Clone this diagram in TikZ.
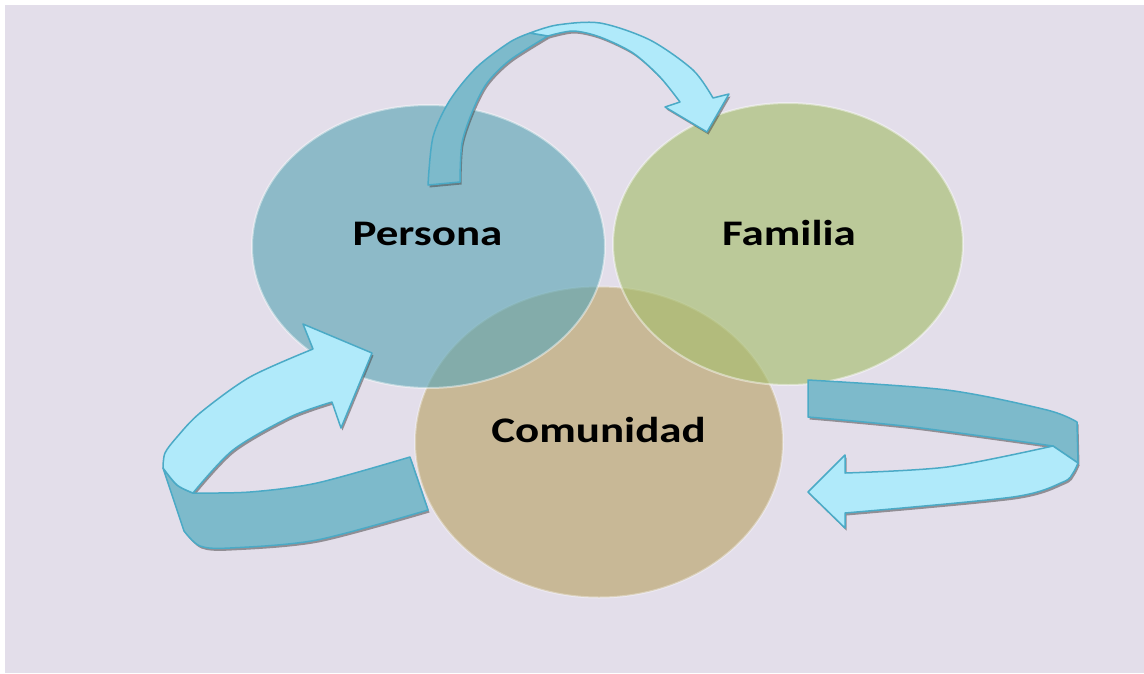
\documentclass[tikz,border=0pt]{standalone}
\usepackage{fontspec}
\setmainfont{Carlito}
\usetikzlibrary{shapes.geometric}

\definecolor{bgLila}{RGB}{227,222,234}
\definecolor{cPersona}{RGB}{95,167,182}
\definecolor{cFamilia}{RGB}{167,190,111}
\definecolor{cComunidad}{RGB}{200,184,150}
\definecolor{ribbonBack}{RGB}{125,186,203}
\definecolor{ribbonFront}{RGB}{176,234,250}
\definecolor{ribbonLine}{RGB}{75,170,198}

\tikzset{
  bubble/.style={ellipse, inner sep=0pt},
  word/.style={font=\bfseries\fontsize{36}{43}\selectfont, inner sep=0pt, xscale=1.25, anchor=base},
  back/.style={fill=ribbonBack, draw=ribbonLine, line width=1.5pt, line join=round},
  front/.style={fill=ribbonFront, draw=ribbonLine, line width=1.5pt, line join=round},
  shade/.style={fill=black!75, opacity=0.5},
}

% ribbon arrows (back side / front side)
\newcommand{\topBack}{plot[smooth] coordinates {(428,185) (433,137) (450,100) (477,67) (510,42) (530,33)} -- plot[smooth] coordinates {(548,36) (510,60) (487,83) (473,110) (462,143) (460,182)} -- cycle}
\newcommand{\topFront}{plot[smooth] coordinates {(530,33) (557,25) (600,23) (650,40) (693,70) (713,98)} -- (729,94) -- (707,132) -- (665,107) -- plot[smooth] coordinates {(680,102) (660,77) (633,53) (600,37) (573,31) (548,36)} -- cycle}
\newcommand{\leftBack}{plot[smooth] coordinates {(163,468) (177,485) (193,493)} -- plot[smooth] coordinates {(193,493) (250,492) (317,483) (410,457)} -- (428,510) -- plot[smooth] coordinates {(428,510) (317,540) (230,548) (200,546) (184,531)} -- cycle}
\newcommand{\leftFront}{plot[smooth] coordinates {(163,468) (165,453) (177,437) (200,413) (250,377) (313,349)} -- (303,324) -- (372,353) -- (341,428) -- plot[smooth] coordinates {(332,402) (290,417) (233,450) (193,493)} -- plot[smooth] coordinates {(193,493) (177,485) (163,468)} -- cycle}
\newcommand{\rightBack}{plot[smooth] coordinates {(808,380) (947,390) (1047,410) (1077,422)} -- (1078,463) -- plot[smooth] coordinates {(1053,446) (913,427) (808,417)} -- cycle}
\newcommand{\rightFront}{(1053,446) -- plot[smooth] coordinates {(1078,463) (1073,473) (1063,482) (1013,497) (845,513)} -- (845,528) -- (808,492) -- (845,455) -- plot[smooth] coordinates {(845,473) (947,467) (1053,446)} -- cycle}

\begin{document}
\begin{tikzpicture}[x=1pt, y=-1pt]
      \useasboundingbox (0,0) rectangle (1144,673);
      \fill[white] (0,0) rectangle (1144,673);
      \fill[bgLila] (5,5) rectangle (1144,673);

      \draw (599,442) node[bubble, fill=cComunidad, draw=white, draw opacity=0.35, line width=2pt, minimum width=368pt, minimum height=311pt] (comunidad) {};
      \draw (428.5,246.5) node[bubble, fill=cPersona, fill opacity=0.65, draw=white, draw opacity=0.45, line width=2pt, minimum width=353pt, minimum height=283pt] (persona) {};
      \draw (788,244) node[bubble, fill=cFamilia, fill opacity=0.65, draw=white, draw opacity=0.45, line width=2pt, minimum width=350pt, minimum height=282pt] (familia) {};

      \draw (427.5,245) node[word] (personaTxt) {Persona};
      \draw (789,245) node[word] (familiaTxt) {Familia};
      \draw (598.5,442) node[word] (comunidadTxt) {Comunidad};

      % shadows under the ribbons
      \begin{scope}[shift={(1.5,2.5)}]
        \fill[shade] \topBack;  \fill[shade] \topFront;
        \fill[shade] \leftBack; \fill[shade] \leftFront;
        \fill[shade] \rightBack; \fill[shade] \rightFront;
      \end{scope}

      \filldraw[back] \topBack;
      \filldraw[front] \topFront;
      \filldraw[back] \leftBack;
      \filldraw[front] \leftFront;
      \filldraw[back] \rightBack;
      \filldraw[front] \rightFront;
\end{tikzpicture}
\end{document}
